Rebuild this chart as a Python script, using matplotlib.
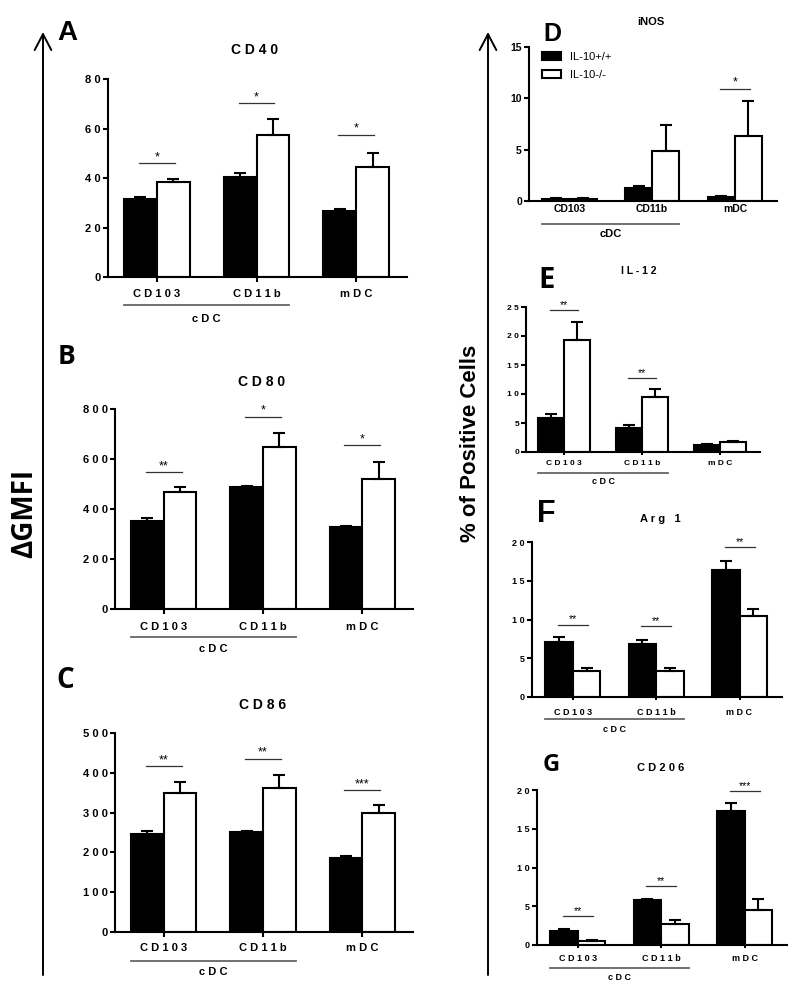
import matplotlib
matplotlib.use('Agg')
import matplotlib.pyplot as plt
from matplotlib.patches import Patch
from matplotlib.transforms import ScaledTranslation
import numpy as np

W, H = 800, 986

groups = ['CD103', 'CD11b', 'mDC']
series_names = ['IL-10+/+', 'IL-10-/-']

# panel A - CD40 (dGMFI)
cd40_wt = [31.5, 40.3, 26.8]
cd40_wt_err = [0.8, 1.6, 0.8]
cd40_ko = [38.3, 57.2, 44.6]
cd40_ko_err = [1.3, 6.7, 5.6]
cd40_sig = ['*', '*', '*']
cd40_sig_y = [46.0, 70.3, 57.4]

# panel B - CD80
cd80_wt = [353, 489, 329]
cd80_wt_err = [10, 5, 4]
cd80_ko = [469, 649, 521]
cd80_ko_err = [18, 54, 67]
cd80_sig = ['**', '*', '*']
cd80_sig_y = [548, 769, 656]

# panel C - CD86
cd86_wt = [246, 251, 186]
cd86_wt_err = [7, 3, 5]
cd86_ko = [349, 362, 298]
cd86_ko_err = [29, 33, 20]
cd86_sig = ['**', '**', '***']
cd86_sig_y = [417, 435, 356]

# panel D - iNOS (% positive)
inos_wt = [0.2, 1.3, 0.35]
inos_wt_err = [0.05, 0.15, 0.1]
inos_ko = [0.2, 4.9, 6.35]
inos_ko_err = [0.05, 2.55, 3.4]
inos_sig = [None, None, '*']
inos_sig_y = [None, None, 10.95]

# panel E - IL-12
il12_wt = [5.9, 4.1, 1.2]
il12_wt_err = [0.7, 0.6, 0.15]
il12_ko = [19.25, 9.55, 1.7]
il12_ko_err = [3.25, 1.35, 0.15]
il12_sig = ['**', '**', None]
il12_sig_y = [24.4, 12.8, None]

# panel F - Arg 1
arg1_wt = [7.05, 6.85, 16.4]
arg1_wt_err = [0.65, 0.5, 1.2]
arg1_ko = [3.3, 3.35, 10.45]
arg1_ko_err = [0.45, 0.4, 0.85]
arg1_sig = ['**', '**', '**']
arg1_sig_y = [9.35, 9.1, 19.3]

# panel G - CD206
cd206_wt = [1.8, 5.8, 17.3]
cd206_wt_err = [0.3, 0.2, 1.0]
cd206_ko = [0.5, 2.65, 4.5]
cd206_ko_err = [0.15, 0.6, 1.5]
cd206_sig = ['**', '**', '***']
cd206_sig_y = [3.75, 7.6, 19.9]

ARIAL = ['Liberation Sans', 'DejaVu Sans']
CALIBRI = ['Open Sans', 'DejaVu Sans']
plt.rcParams['font.family'] = ARIAL

fig = plt.figure(figsize=(W / 100, H / 100), dpi=100)


def box(x0, y0, x1, y1):
    return [x0 / W, 1 - y1 / H, (x1 - x0) / W, (y1 - y0) / H]


def spaced(s):
    return ' '.join(s)


def px_down(ax, px):
    return ax.get_xaxis_transform() + ScaledTranslation(0, -px / 100, fig.dpi_scale_trans)


def panel(rect, wt, wt_err, ko, ko_err, sig, sig_y, ymax, ystep, space=True,
          fs=8, xlen=3.6, xpad=5, lbl_down=(28, 42), fs_cdc=8, fs_sig=9):
    ax = fig.add_axes(box(*rect))
    x = np.arange(len(groups))
    bw = 0.33
    bars_wt = ax.bar(x - bw / 2, wt, bw, color='black', edgecolor='black', lw=1.5, zorder=2)
    bars_ko = ax.bar(x + bw / 2, ko, bw, color='white', edgecolor='black', lw=1.5, zorder=2)
    z = np.zeros(len(groups))
    ax.errorbar(x - bw / 2, wt, yerr=[z, wt_err], fmt='none', ecolor='black',
                elinewidth=1.5, capsize=4.5, capthick=1.5, zorder=3)
    ax.errorbar(x + bw / 2, ko, yerr=[z, ko_err], fmt='none', ecolor='black',
                elinewidth=1.5, capsize=4.5, capthick=1.5, zorder=3)
    for i, (s, y) in enumerate(zip(sig, sig_y)):
        if s is None:
            continue
        ax.plot([i - 0.18, i + 0.18], [y, y], color='#333333', lw=0.9, clip_on=False)
        ax.text(i, y, s, ha='center', va='bottom', fontsize=fs_sig, clip_on=False)

    ax.set_xlim(-0.49, 2.51)
    ax.set_ylim(0, ymax)
    ticks = np.arange(0, ymax + 1e-9, ystep)
    fmt = spaced if space else (lambda s: s)
    ax.set_yticks(ticks)
    ax.set_yticklabels([fmt(f'{v:g}') for v in ticks], fontsize=fs, fontweight='bold')
    ax.set_xticks(x)
    ax.set_xticklabels([fmt(g) for g in groups], fontsize=fs, fontweight='bold')
    for side in ['top', 'right']:
        ax.spines[side].set_visible(False)
    for side in ['left', 'bottom']:
        ax.spines[side].set_linewidth(1.5)
    ax.tick_params(axis='y', length=3.6, width=1.5, pad=1.5)
    ax.tick_params(axis='x', length=xlen, width=1.5, pad=xpad)

    # cDC grouping bracket under CD103 + CD11b
    line_px, text_px = lbl_down
    ax.plot([0 - bw, 1 + bw], [0, 0], transform=px_down(ax, line_px),
            color='#666666', lw=1.3, clip_on=False)
    ax.text(0.5, 0, fmt('cDC'), transform=px_down(ax, text_px), ha='center', va='center',
            fontsize=fs_cdc, fontweight='bold')
    return ax, bars_wt, bars_ko


panel((108, 79, 407, 277), cd40_wt, cd40_wt_err, cd40_ko, cd40_ko_err, cd40_sig, cd40_sig_y,
      80, 20, fs=8, xpad=5, lbl_down=(28, 42))
panel((115, 409, 413, 609), cd80_wt, cd80_wt_err, cd80_ko, cd80_ko_err, cd80_sig, cd80_sig_y,
      800, 200, fs=8, xpad=5.5, lbl_down=(28, 40))
panel((115, 733, 413, 932), cd86_wt, cd86_wt_err, cd86_ko, cd86_ko_err, cd86_sig, cd86_sig_y,
      500, 100, fs=8, xpad=4.2, lbl_down=(29, 40))
ax_d, bwt, bko = panel((529, 47, 777, 201), inos_wt, inos_wt_err, inos_ko, inos_ko_err, inos_sig,
                       inos_sig_y, 15, 5, space=False, fs=7.5, xlen=0, xpad=2.5,
                       lbl_down=(23, 33), fs_cdc=8)
panel((526, 307, 760, 452), il12_wt, il12_wt_err, il12_ko, il12_ko_err, il12_sig, il12_sig_y,
      25, 5, fs=6, xlen=2.2, xpad=3.9, lbl_down=(21, 30), fs_cdc=6.5, fs_sig=7.5)
panel((532, 542, 782, 697), arg1_wt, arg1_wt_err, arg1_ko, arg1_ko_err, arg1_sig, arg1_sig_y,
      20, 5, fs=6.5, xlen=2.2, xpad=5.5, lbl_down=(22, 32), fs_cdc=6.5, fs_sig=7.5)
panel((537, 790, 787, 945), cd206_wt, cd206_wt_err, cd206_ko, cd206_ko_err, cd206_sig, cd206_sig_y,
      20, 5, fs=6.5, xlen=2.2, xpad=4, lbl_down=(23, 32), fs_cdc=6.5, fs_sig=7.5)

ax_d.legend(handles=[Patch(facecolor='black', edgecolor='black', lw=1.5),
                     Patch(facecolor='white', edgecolor='black', lw=1.5)],
            labels=series_names, loc='upper left', bbox_to_anchor=(0.052, 0.97),
            frameon=False, fontsize=8, handlelength=1.7, handleheight=0.75,
            handletextpad=0.8, labelspacing=0.75, borderpad=0, borderaxespad=0)

# overlay for arrows, panel letters and titles (pixel layout coordinates)
ov = fig.add_axes([0, 0, 1, 1])
ov.set_xlim(0, W)
ov.set_ylim(H, 0)
ov.axis('off')

for xa in (43, 488):
    ov.annotate('', xy=(xa, 32), xytext=(xa, 975),
                arrowprops=dict(arrowstyle='->,head_length=1.15,head_width=0.6',
                                lw=1.4, color='black', shrinkA=0, shrinkB=0))

ov.text(25, 513, 'ΔGMFI', rotation=90, ha='center', va='center', fontsize=20,
        fontweight='bold', family=CALIBRI)
ov.text(470, 443, '% of Positive Cells', rotation=90, ha='center', va='center', fontsize=16,
        fontweight='bold', family=ARIAL)

letters = [('A', 67, 33, 20, ARIAL), ('B', 66, 357, 19, CALIBRI), ('C', 65, 680, 20, CALIBRI),
           ('D', 552, 34, 18, ARIAL), ('E', 547, 281, 21, CALIBRI), ('F', 546, 514, 22, ARIAL),
           ('G', 551, 765, 17, CALIBRI)]
for t, lx, ly, size, fam in letters:
    ov.text(lx, ly, t, ha='center', va='center', fontsize=size, fontweight='bold', family=fam)

titles = [('C D 4 0', 255, 50, 10), ('C D 8 0', 262, 382, 10), ('C D 8 6', 263, 705, 10),
          ('iNOS', 651, 22, 8), ('I L - 1 2', 639, 271, 7.5), ('A r g   1', 660, 519, 8),
          ('C D 2 0 6', 661, 768, 8)]
for t, tx, ty, size in titles:
    ov.text(tx, ty, t, ha='center', va='center', fontsize=size, fontweight='bold')

fig.savefig('out.png', dpi=100)
